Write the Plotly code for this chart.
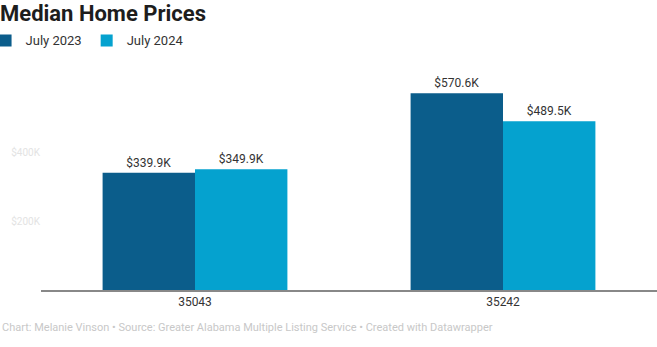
import plotly.graph_objects as go

categories = ["35043", "35242"]
series_names = ["July 2023", "July 2024"]
values_2023 = [339.9, 570.6]
values_2024 = [349.9, 489.5]
colors = ["#0b5d8b", "#05a2cf"]
ytick_vals = [200, 400]
ytick_text = ["$200K", "$400K"]

fig = go.Figure()
for name, vals, c in zip(series_names, [values_2023, values_2024], colors):
    fig.add_trace(go.Bar(
        x=categories, y=vals, name=name, marker=dict(color=c, line=dict(width=0)),
        text=[f"${v:.1f}K" for v in vals], textposition="outside",
        textfont=dict(size=12, color="#333333", family="Roboto"),
        cliponaxis=False,
    ))

fig.update_layout(
    width=657, height=347,
    margin=dict(l=41, r=0, t=60, b=57, autoexpand=False),
    barmode="group", bargap=0.4, bargroupgap=0,
    plot_bgcolor="white", paper_bgcolor="white",
    font=dict(family="Roboto", color="#333333"),
    showlegend=True,
    legend=dict(orientation="h", x=-0.09, xanchor="left", y=1.085, yanchor="middle",
                font=dict(size=13, color="#333333"), itemwidth=30, traceorder="normal"),
    title=dict(text="<b>Median Home Prices</b>", x=0.0, xanchor="left", y=0.962, yanchor="middle",
               font=dict(size=22, color="#1d1d1d", family="Roboto")),
    xaxis=dict(type="category", range=[-0.5, 1.5], showline=True, linecolor="#888888", linewidth=1.5,
               ticks="", tickfont=dict(size=12, color="#333333"), automargin=False),
    yaxis=dict(range=[0, 667], showgrid=False, zeroline=False, showline=False,
               tickvals=ytick_vals, ticktext=ytick_text, ticks="", automargin=False,
               tickfont=dict(size=10, color="#e3e3e3")),
)

fig.add_annotation(
    text="Chart: Melanie Vinson • Source: Greater Alabama Multiple Listing Service • Created with Datawrapper",
    xref="paper", yref="paper", x=-0.066, y=-0.165, xanchor="left", yanchor="middle",
    showarrow=False, font=dict(size=11, color="#c8c8c8"),
)

fig.write_html("out.html")
